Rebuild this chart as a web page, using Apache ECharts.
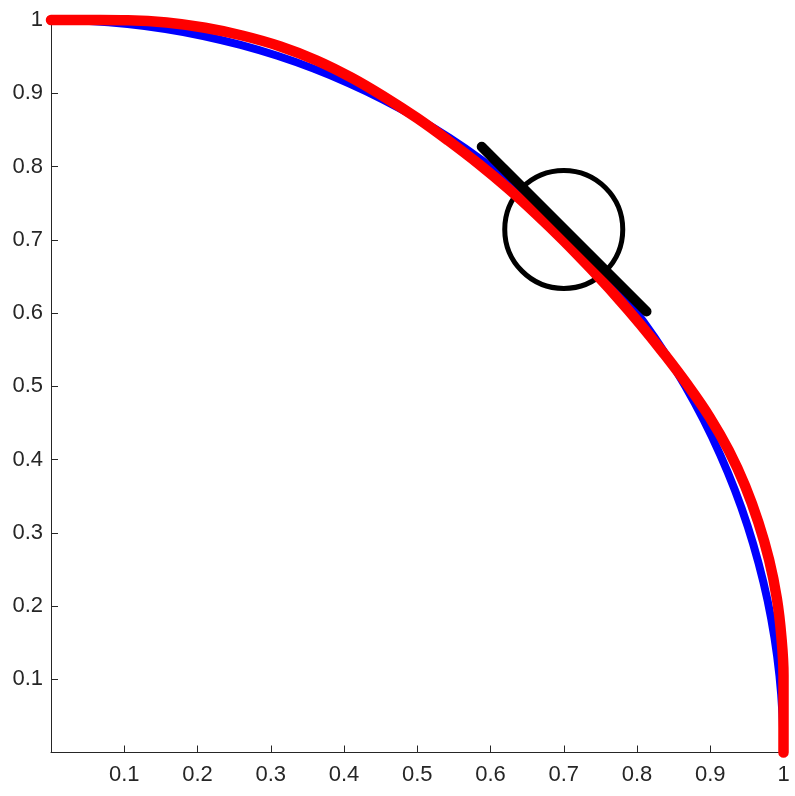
<!DOCTYPE html>
<html>
<head>
<meta charset="utf-8">
<script src="https://cdn.jsdelivr.net/npm/echarts@6/dist/echarts.min.js"></script>
<style>
html,body{margin:0;padding:0;background:#fff;}
#chart{width:795px;height:796px;}
</style>
</head>
<body>
<div id="chart"></div>
<script>
// True front (blue), quarter of the unit circle
const blueFront = [
  [0.0000,1.0000],[0.0523,0.9986],[0.1045,0.9945],[0.1564,0.9877],[0.2079,0.9782],
  [0.2588,0.9659],[0.3090,0.9511],[0.3584,0.9336],[0.4067,0.9135],[0.4540,0.8910],
  [0.5000,0.8660],[0.5446,0.8387],[0.5878,0.8090],[0.6293,0.7771],[0.6691,0.7431],
  [0.7071,0.7071],[0.7431,0.6691],[0.7771,0.6293],[0.8090,0.5878],[0.8387,0.5446],
  [0.8660,0.5000],[0.8910,0.4540],[0.9135,0.4067],[0.9336,0.3584],[0.9511,0.3090],
  [0.9659,0.2588],[0.9782,0.2079],[0.9877,0.1564],[0.9945,0.1045],[0.9986,0.0523],
  [1.0000,0.0000]
];
// Approximated front (red)
const redFront = [
  [0.0000,1.0000],[0.0524,0.9999],[0.1051,0.9995],[0.1578,0.9966],[0.2103,0.9894],
  [0.2622,0.9785],[0.3132,0.9639],[0.3627,0.9448],[0.4102,0.9213],[0.4558,0.8946],
  [0.5000,0.8660],[0.5425,0.8353],[0.5838,0.8035],[0.6237,0.7702],[0.6621,0.7353],
  [0.6993,0.6993],[0.7353,0.6621],[0.7705,0.6240],[0.8046,0.5846],[0.8374,0.5438],
  [0.8691,0.5018],[0.8990,0.4581],[0.9254,0.4120],[0.9476,0.3638],[0.9658,0.3138],
  [0.9804,0.2627],[0.9909,0.2106],[0.9971,0.1579],[1.0000,0.1051],[1.0000,0.0524],
  [1.0000,0.0000]
];
// Tangent line at the marked point
const tangentLine = [[0.588,0.827],[0.813,0.602]];
// Marked point (circle centre)
const markedPoint = [[0.700,0.7141]];
const tickValues = [0.1,0.2,0.3,0.4,0.5,0.6,0.7,0.8,0.9,1];

const chart = echarts.init(document.getElementById('chart'), null, {renderer:'canvas'});
const axisCommon = {
  type:'value', min:0, max:1, interval:0.1,
  axisLine:{show:true, onZero:false, lineStyle:{color:'#262626', width:1}},
  axisTick:{show:true, inside:true, length:7, lineStyle:{color:'#262626', width:1}},
  splitLine:{show:false},
  axisLabel:{
    color:'#262626', fontSize:22, fontFamily:'"Liberation Sans", Arial, sans-serif',
    formatter: v => tickValues.some(t => Math.abs(t - v) < 1e-9) ? String(+v.toFixed(1)) : ''
  }
};
chart.setOption({
  animation:false,
  backgroundColor:'#ffffff',
  grid:{left:51, right:11.5, top:20, bottom:43.5, containLabel:false, outerBoundsMode:'none'},
  xAxis: Object.assign({}, axisCommon, {axisLabel:Object.assign({}, axisCommon.axisLabel, {margin:11})}),
  yAxis: Object.assign({}, axisCommon, {axisLabel:Object.assign({}, axisCommon.axisLabel, {margin:8})}),
  series:[
    {type:'line', data:blueFront, showSymbol:false, clip:false, silent:true, smooth:0.3,
     lineStyle:{color:'#0000ff', width:8, cap:'round', join:'round'}},
    {type:'line', data:redFront, showSymbol:false, clip:false, silent:true, smooth:0.4,
     lineStyle:{color:'#ff0000', width:10.5, cap:'round', join:'round'}},
    {type:'line', data:tangentLine, showSymbol:false, clip:false, silent:true,
     lineStyle:{color:'#000000', width:10, cap:'round'}},
    {type:'scatter', data:markedPoint, symbol:'circle', symbolSize:118, clip:false, silent:true,
     itemStyle:{color:'rgba(0,0,0,0)', borderColor:'#000000', borderWidth:5, opacity:1}}
  ]
});
</script>
</body>
</html>
